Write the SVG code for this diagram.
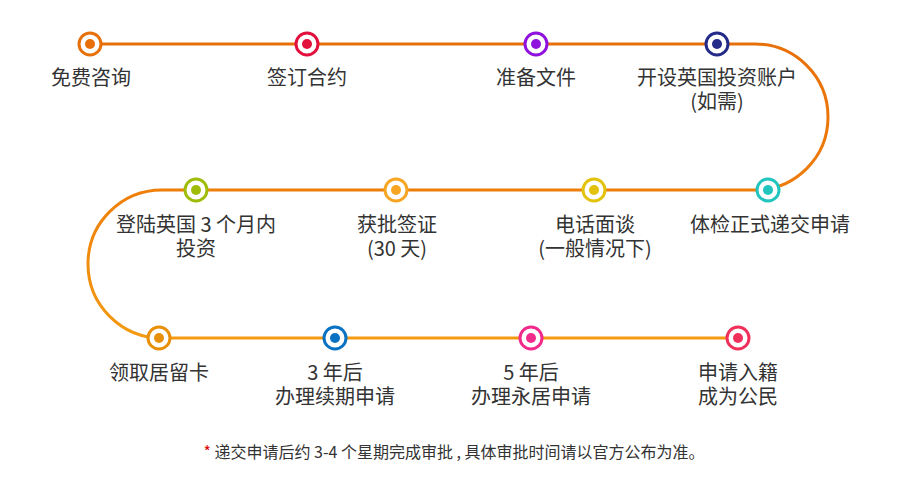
<svg xmlns="http://www.w3.org/2000/svg" width="900" height="500" viewBox="0 0 900 500">
<defs>
<style>
.line{fill:none;stroke-width:3}
.ring{fill:#fff;stroke-width:3}
.label{font-family:"Noto Sans CJK SC","Liberation Sans",sans-serif;font-size:20px;fill:#333;text-anchor:middle}
.note{font-family:"Noto Sans CJK SC","Liberation Sans",sans-serif;font-size:16px;fill:#333;text-anchor:middle}
</style>
<linearGradient id="gR" gradientUnits="userSpaceOnUse" x1="0" y1="44" x2="0" y2="190">
<stop offset="0" stop-color="#e8700a"/><stop offset="1" stop-color="#ee7c0a"/>
</linearGradient>
<linearGradient id="gL" gradientUnits="userSpaceOnUse" x1="0" y1="190" x2="0" y2="338">
<stop offset="0" stop-color="#ee7f0a"/><stop offset="1" stop-color="#f39a12"/>
</linearGradient>
</defs>
<rect width="900" height="500" fill="#fff"/>
<g id="connectors">
<path class="line" stroke="#e8700a" d="M90,44 H755"/>
<path class="line" stroke="url(#gR)" d="M755,44 A73,73 0 0 1 755,190"/>
<path class="line" stroke="#ee7e0a" d="M768,190 H162"/>
<path class="line" stroke="url(#gL)" d="M162,190 A74,74 0 0 0 162,338"/>
<path class="line" stroke="#f39a12" d="M159,338 H738"/>
</g>
<g id="n1"><circle class="ring" cx="90" cy="44" r="11" stroke="#e8700a"/><circle cx="90" cy="44" r="5" fill="#e8700a"/><text class="label" x="91" y="85">免费咨询</text></g>
<g id="n2"><circle class="ring" cx="307" cy="44" r="11" stroke="#e2103c"/><circle cx="307" cy="44" r="5" fill="#e2103c"/><text class="label" x="307" y="85">签订合约</text></g>
<g id="n3"><circle class="ring" cx="536" cy="44" r="11" stroke="#9010dc"/><circle cx="536" cy="44" r="5" fill="#9010dc"/><text class="label" x="536" y="85">准备文件</text></g>
<g id="n4"><circle class="ring" cx="717" cy="44" r="11" stroke="#232a88"/><circle cx="717" cy="44" r="5" fill="#232a88"/><text class="label" x="717" y="85">开设英国投资账户</text><text class="label" x="717" y="109">(如需)</text></g>
<g id="n5"><circle class="ring" cx="768" cy="190" r="11" stroke="#22c4be"/><circle cx="768" cy="190" r="5" fill="#22c4be"/><text class="label" x="770" y="232">体检正式递交申请</text></g>
<g id="n6"><circle class="ring" cx="594" cy="190" r="11" stroke="#e2c20a"/><circle cx="594" cy="190" r="5" fill="#e2c20a"/><text class="label" x="595" y="232">电话面谈</text><text class="label" x="595" y="256">(一般情况下)</text></g>
<g id="n7"><circle class="ring" cx="396" cy="190" r="11" stroke="#f6a623"/><circle cx="396" cy="190" r="5" fill="#f6a623"/><text class="label" x="397" y="232">获批签证</text><text class="label" x="397" y="256">(30 天)</text></g>
<g id="n8"><circle class="ring" cx="196" cy="190" r="11" stroke="#a0bc0a"/><circle cx="196" cy="190" r="5" fill="#a0bc0a"/><text class="label" x="196" y="232">登陆英国 3 个月内</text><text class="label" x="196" y="256">投资</text></g>
<g id="n9"><circle class="ring" cx="159" cy="338" r="11" stroke="#e8900a"/><circle cx="159" cy="338" r="5" fill="#e8900a"/><text class="label" x="159" y="380">领取居留卡</text></g>
<g id="n10"><circle class="ring" cx="335" cy="338" r="11" stroke="#0a72c2"/><circle cx="335" cy="338" r="5" fill="#0a72c2"/><text class="label" x="335" y="380">3 年后</text><text class="label" x="335" y="404">办理续期申请</text></g>
<g id="n11"><circle class="ring" cx="531" cy="338" r="11" stroke="#f22a8c"/><circle cx="531" cy="338" r="5" fill="#f22a8c"/><text class="label" x="531" y="380">5 年后</text><text class="label" x="531" y="404">办理永居申请</text></g>
<g id="n12"><circle class="ring" cx="738" cy="338" r="11" stroke="#f0305a"/><circle cx="738" cy="338" r="5" fill="#f0305a"/><text class="label" x="738" y="380">申请入籍</text><text class="label" x="738" y="404">成为公民</text></g>
<text class="note" x="454" y="458"><tspan fill="#e00000">*</tspan> 递交申请后约 3-4 个星期完成审批 , 具体审批时间请以官方公布为准。</text>
</svg>
